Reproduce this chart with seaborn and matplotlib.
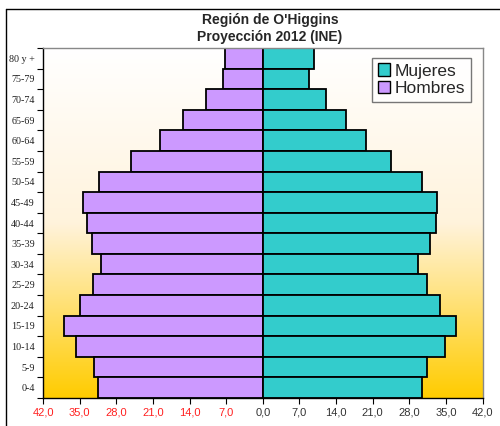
import numpy as np
import pandas as pd
import matplotlib
matplotlib.use("Agg")
import matplotlib.pyplot as plt
from matplotlib.patches import Patch
from matplotlib.lines import Line2D
import seaborn as sns

# age groups, top to bottom as drawn
grupos = ["80 y +", "75-79", "70-74", "65-69", "60-64", "55-59", "50-54", "45-49",
          "40-44", "35-39", "30-34", "25-29", "20-24", "15-19", "10-14", "5-9", "0-4"]
hombres = [7.3, 7.6, 10.9, 15.3, 19.7, 25.1, 31.3, 34.3,
           33.6, 32.6, 31.0, 32.4, 34.9, 38.0, 35.7, 32.3, 31.5]
mujeres = [9.8, 8.9, 12.1, 16.0, 19.8, 24.5, 30.4, 33.3,
           33.2, 31.9, 29.7, 31.3, 33.8, 37.0, 34.8, 31.4, 30.4]
xticks = [-42, -35, -28, -21, -14, -7, 0, 7, 14, 21, 28, 35, 42]

col_muj = "#33CCCC"
col_hom = "#CC99FF"

df = pd.concat([
    pd.DataFrame({"grupo": grupos, "valor": [-v for v in hombres], "sexo": "Hombres"}),
    pd.DataFrame({"grupo": grupos, "valor": mujeres, "sexo": "Mujeres"}),
])

sns.set_style("white")
fig = plt.figure(figsize=(5.0, 4.26), dpi=100)
ax = fig.add_axes([0.086, 0.066, 0.879, 0.821])

# gradient background (white top -> gold bottom)
grad = np.linspace(0, 1, 256).reshape(-1, 1)
cmap = matplotlib.colors.LinearSegmentedColormap.from_list(
    "bg", ["#FFFFFF", "#FFF3DC", "#FFCC00"])
ax.imshow(grad, aspect="auto", cmap=cmap, extent=[-42, 42, 16.5, -0.5],
          zorder=0, interpolation="bicubic")

sns.barplot(data=df, y="grupo", x="valor", hue="sexo", order=grupos,
            palette={"Hombres": col_hom, "Mujeres": col_muj},
            dodge=False, width=1.0, orient="h", edgecolor="black",
            linewidth=1.3, saturation=1, ax=ax, legend=False, zorder=2)

ax.set_xlim(-42, 42)
ax.set_ylim(16.5, -0.5)
ax.set_xlabel("")
ax.set_ylabel("")

ax.set_xticks(xticks)
ax.set_xticklabels([f"{abs(t):.1f}".replace(".", ",") for t in xticks],
                   fontsize=8, family="Liberation Sans")
for t, lab in zip(xticks, ax.get_xticklabels()):
    lab.set_color("#FF2020" if t < 0 else "#333333")
ax.tick_params(axis="x", direction="out", length=4, width=0.8, color="black", pad=3,
               bottom=True)

ax.set_yticks(range(len(grupos)))
ax.set_yticklabels(grupos, fontsize=7.3, family="Liberation Serif", color="#222222")
ax.tick_params(axis="y", which="major", length=0, pad=6, left=True)
ax.set_yticks(np.arange(-0.5, len(grupos), 1.0), minor=True)
ax.tick_params(axis="y", which="minor", direction="out", length=4, width=0.8,
               color="black", left=True)

for s in ["left", "bottom"]:
    ax.spines[s].set_color("black")
    ax.spines[s].set_linewidth(1.0)
for s in ["top", "right"]:
    ax.spines[s].set_color("#888888")
    ax.spines[s].set_linewidth(1.0)

handles = [Patch(facecolor=col_muj, edgecolor="black", label="Mujeres"),
           Patch(facecolor=col_hom, edgecolor="black", label="Hombres")]
leg = ax.legend(handles=handles, loc="upper right", bbox_to_anchor=(0.973, 0.971),
                frameon=True, fancybox=False, handlelength=0.7,
                handleheight=0.7, handletextpad=0.3, borderpad=0.3,
                labelspacing=0.15, borderaxespad=0,
                prop={"family": "Liberation Sans", "size": 12.5})
leg.get_frame().set_edgecolor("#555555")
leg.get_frame().set_linewidth(1.0)

fig.text(0.54, 0.953, "Región de O'Higgins", ha="center", va="center",
         fontsize=10, fontweight="bold", family="Liberation Sans")
fig.text(0.54, 0.913, "Proyección 2012 (INE)", ha="center", va="center",
         fontsize=10, fontweight="bold", family="Liberation Sans")

# outer chart frame
fig.add_artist(Line2D([0.012, 0.012], [0.0, 0.979], color="black", lw=1.0,
                      transform=fig.transFigure))
fig.add_artist(Line2D([0.012, 1.0], [0.979, 0.979], color="black", lw=1.0,
                      transform=fig.transFigure))

fig.savefig("out.png", dpi=100)
